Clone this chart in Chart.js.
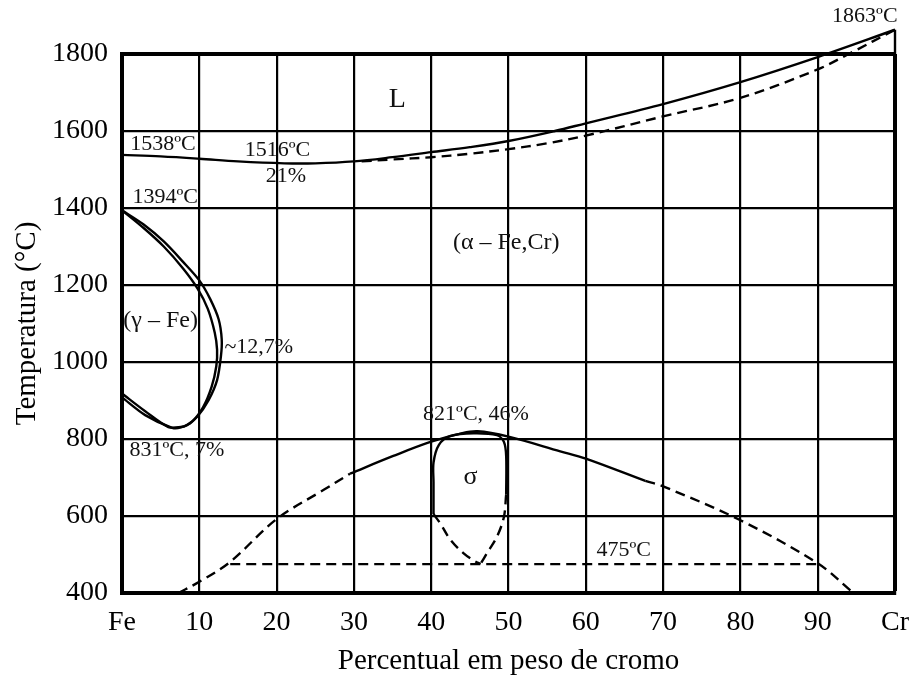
<!DOCTYPE html>
<html>
<head>
<meta charset="utf-8">
<script src="https://cdn.jsdelivr.net/npm/chart.js@4.4.1/dist/chart.umd.min.js"></script>
<style>
  html, body { margin: 0; padding: 0; background: #ffffff; }
  #wrap { width: 914px; height: 682px; }
</style>
</head>
<body>
<div id="wrap"><canvas id="c" width="914" height="682"></canvas></div>
<script>
// ---- axis tick labels ----
const xTickLabels = ['Fe', '10', '20', '30', '40', '50', '60', '70', '80', '90', 'Cr'];
const yTickValues = [400, 600, 800, 1000, 1200, 1400, 1600, 1800];

// ---- liquidus (solid) ----
const liqX = [0, 5, 10, 15, 21, 25, 30, 35, 40, 45, 50, 56, 60, 70, 80, 90, 100];
const liqT = [1538, 1534, 1528, 1521, 1516, 1516, 1521, 1532, 1545, 1558, 1574, 1600, 1620, 1670, 1727, 1792, 1863];

// ---- solidus (dashed) ----
const solX = [31, 35, 40, 45, 50, 55, 60, 70, 80, 90, 94, 100];
const solT = [1521, 1526, 1532, 1541, 1553, 1568, 1588, 1638, 1686, 1760, 1800, 1863];

// ---- gamma loop, outer boundary ----
const gOutX = [0, 2.8, 5.4, 7.9, 10.0, 11.4, 12.5, 12.9, 12.8, 12.3, 11.2, 9.7, 8.4, 7.6, 6.0, 3.0, 0];
const gOutT = [1394, 1357, 1313, 1260, 1212, 1164, 1111, 1059, 1015, 953, 901, 857, 836, 831, 831, 872, 918];

// ---- gamma loop, inner boundary ----
const gInX = [0, 2.8, 5.4, 7.9, 9.8, 11.1, 12.0, 12.3, 12.2, 11.6, 10.5, 9.0, 7.6, 6.5, 3.0, 0];
const gInT = [1394, 1348, 1300, 1243, 1190, 1138, 1076, 1032, 989, 936, 883, 844, 830, 829, 862, 908];

// ---- sigma dome (alpha / alpha+sigma boundary) ----
const domeLeftX = [7.3, 10, 14, 20, 26.1, 29.5];
const domeLeftT = [400, 429, 481, 592, 668, 710];
const domeMidX = [29.5, 35.1, 40, 43.8, 46, 50, 56.7, 60, 67.7];
const domeMidT = [710, 756, 793, 814, 820, 806, 768, 749, 691];
const domeRightX = [67.7, 70, 80, 90, 94.4];
const domeRightT = [691, 677, 589, 477, 404];

// ---- 475 C line ----
const line475X = [14, 90];
const line475T = [475, 475];

// ---- sigma phase field ----
const sigSolidX = [40.3, 40.3, 40.3, 41.0, 42.5, 45.5, 48.5, 49.4, 49.7, 49.7];
const sigSolidT = [605, 688, 739, 785, 808, 815, 810, 793, 756, 656];
const sigRightX = [49.7, 49.4, 48.5, 47.2, 46.4];
const sigRightT = [656, 597, 546, 503, 476];
const sigLeftX = [40.3, 41.2, 42.5, 44.2, 45.7, 46.4];
const sigLeftT = [605, 580, 538, 503, 482, 476];

// ---- frame extension at pure Cr ----
const crEdgeX = [100, 100];
const crEdgeT = [1800, 1863];

// ---- text labels (data coordinates) ----
const noteText = ['1538ºC', '1516ºC', '21%', '1394ºC', 'L', '(α – Fe,Cr)', '(γ – Fe)', '~12,7%', '831ºC, 7%', '821ºC, 46%', 'σ', '475ºC', '1863ºC'];
const noteX = [5.3, 20.1, 21.2, 5.6, 35.6, 49.7, 5.0, 17.7, 7.1, 45.8, 45.1, 64.9, 96.1];
const noteT = [1566, 1551, 1483, 1429, 1681, 1309, 1106, 1039, 771, 865, 701, 512, 1899];
const noteSize = [22, 22, 22, 22, 28, 24, 24, 22, 22, 22, 26, 22, 22];

function pts(xs, ts) { return xs.map((x, i) => ({ x: x, y: ts[i] })); }

function ds(xs, ts, dashed, tension) {
  return {
    data: pts(xs, ts),
    borderColor: '#000',
    borderWidth: 2.4,
    borderDash: dashed ? [10, 6] : [],
    pointRadius: 0,
    fill: false,
    tension: tension === undefined ? 0.35 : tension,
    clip: false
  };
}

const FONT = 'Liberation Serif, Times New Roman, serif';

const notesPlugin = {
  id: 'notes',
  afterDatasetsDraw(chart) {
    const ctx = chart.ctx;
    const xs = chart.scales.x, ys = chart.scales.y;
    ctx.save();
    ctx.fillStyle = '#111';
    ctx.textAlign = 'center';
    ctx.textBaseline = 'middle';
    noteText.forEach((t, i) => {
      ctx.font = noteSize[i] + 'px ' + FONT;
      ctx.fillText(t, xs.getPixelForValue(noteX[i]), ys.getPixelForValue(noteT[i]));
    });
    ctx.restore();
  }
};

function zeroPad(s) {
  s.paddingLeft = 0; s.paddingRight = 0; s.paddingTop = 0; s.paddingBottom = 0;
}

new Chart(document.getElementById('c'), {
  type: 'line',
  data: {
    datasets: [
      ds(liqX, liqT, false),
      ds(solX, solT, true),
      ds(gOutX, gOutT, false, 0.3),
      ds(gInX, gInT, false, 0.3),
      ds(domeLeftX, domeLeftT, true),
      ds(domeMidX, domeMidT, false),
      ds(domeRightX, domeRightT, true),
      ds(line475X, line475T, true, 0),
      ds(sigSolidX, sigSolidT, false, 0.3),
      ds(sigRightX, sigRightT, true),
      ds(sigLeftX, sigLeftT, true),
      ds(crEdgeX, crEdgeT, false, 0)
    ]
  },
  options: {
    responsive: false,
    animation: false,
    events: [],
    layout: { padding: { top: 54, right: 19, left: 0, bottom: 0 } },
    plugins: { legend: { display: false }, tooltip: { enabled: false } },
    scales: {
      x: {
        type: 'linear',
        min: 0, max: 100,
        afterFit: s => { s.height = 89; zeroPad(s); },
        ticks: {
          stepSize: 10,
          padding: 13,
          color: '#000',
          font: { family: FONT, size: 28 },
          callback: (v) => xTickLabels[Math.round(v / 10)]
        },
        grid: {
          color: '#000',
          lineWidth: c => (c.tick && c.tick.value === 100) ? 4 : 2.2,
          drawTicks: false
        },
        border: { display: true, color: '#000', width: 4 },
        title: {
          display: true,
          text: 'Percentual em peso de cromo',
          color: '#000',
          font: { family: FONT, size: 29 },
          padding: { top: 0, bottom: 3 }
        }
      },
      y: {
        type: 'linear',
        min: 400, max: 1800,
        afterFit: s => { s.width = 122; zeroPad(s); },
        afterBuildTicks: s => { s.ticks = yTickValues.map(v => ({ value: v })); },
        ticks: {
          padding: 14,
          color: '#000',
          font: { family: FONT, size: 28 },
          callback: (v) => String(v)
        },
        grid: {
          color: '#000',
          lineWidth: c => (c.tick && c.tick.value === 1800) ? 4 : 2.2,
          drawTicks: false
        },
        border: { display: true, color: '#000', width: 4 },
        title: {
          display: true,
          text: 'Temperatura (°C)',
          color: '#000',
          font: { family: FONT, size: 29 },
          padding: { top: 10, bottom: 0 }
        }
      }
    }
  },
  plugins: [notesPlugin]
});
</script>
</body>
</html>
